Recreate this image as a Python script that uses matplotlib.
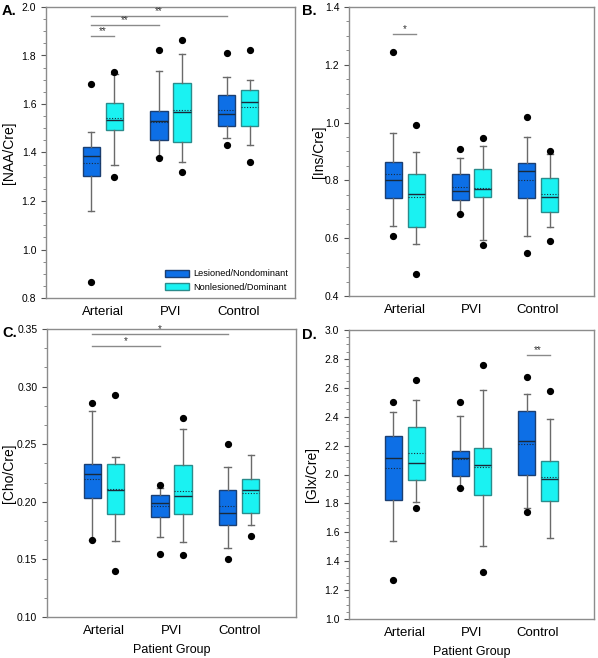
import numpy as np
import matplotlib
matplotlib.use("Agg")
import matplotlib.pyplot as plt
from matplotlib.ticker import AutoMinorLocator, MultipleLocator, FormatStrFormatter
from matplotlib.patches import Patch

plt.rcParams['font.family'] = ['Liberation Sans', 'DejaVu Sans']

groups = ["Arterial", "PVI", "Control"]
series_names = ["Lesioned/Nondominant", "Nonlesioned/Dominant"]

# five-number summaries per group: [whislo, q1, median, q3, whishi]
naa_les = [[1.157, 1.304, 1.385, 1.423, 1.483],
           [1.380, 1.450, 1.529, 1.573, 1.735],
           [1.460, 1.509, 1.559, 1.639, 1.710]]
naa_les_mean = [1.355, 1.525, 1.575]
naa_les_out = [[0.866, 1.684], [1.377, 1.821], [1.429, 1.810]]
naa_non = [[1.348, 1.493, 1.534, 1.606, 1.725],
           [1.361, 1.442, 1.566, 1.686, 1.807],
           [1.429, 1.509, 1.610, 1.658, 1.699]]
naa_non_mean = [1.544, 1.575, 1.586]
naa_non_out = [[1.297, 1.730], [1.319, 1.863], [1.359, 1.821]]

ins_les = [[0.643, 0.740, 0.800, 0.862, 0.965],
           [0.684, 0.733, 0.764, 0.823, 0.876],
           [0.609, 0.740, 0.832, 0.859, 0.950]]
ins_les_mean = [0.823, 0.777, 0.801]
ins_les_out = [[0.607, 1.245], [0.684, 0.908], [0.550, 1.021]]
ins_non = [[0.579, 0.639, 0.754, 0.822, 0.899],
           [0.595, 0.741, 0.771, 0.838, 0.920],
           [0.639, 0.691, 0.741, 0.809, 0.890]]
ins_non_mean = [0.743, 0.773, 0.753]
ins_non_out = [[0.477, 0.991], [0.578, 0.946], [0.591, 0.902]]

cho_les = [[0.167, 0.2033, 0.2241, 0.2331, 0.2785],
           [0.1697, 0.1871, 0.199, 0.2056, 0.212],
           [0.160, 0.1801, 0.1903, 0.2102, 0.2302]]
cho_les_mean = [0.2201, 0.196, 0.1966]
cho_les_out = [[0.167, 0.2858], [0.155, 0.2143], [0.1503, 0.2505]]
cho_non = [[0.166, 0.1894, 0.2105, 0.2331, 0.2392],
           [0.1648, 0.1894, 0.2047, 0.2317, 0.2632],
           [0.1801, 0.1903, 0.2102, 0.2198, 0.2403]]
cho_non_mean = [0.211, 0.2091, 0.2076]
cho_non_out = [[0.140, 0.2927], [0.1541, 0.2725], [0.170]]

glx_les = [[1.542, 1.824, 2.117, 2.264, 2.430],
           [1.909, 1.987, 2.117, 2.163, 2.405],
           [1.766, 1.999, 2.229, 2.439, 2.557]]
glx_les_mean = [2.043, 2.110, 2.211]
glx_les_out = [[1.270, 2.504], [1.909, 2.504], [1.738, 2.677]]
glx_non = [[1.810, 1.960, 2.082, 2.331, 2.516],
           [1.505, 1.856, 2.063, 2.183, 2.587],
           [1.558, 1.817, 1.967, 2.096, 2.386]]
glx_non_mean = [2.146, 2.052, 1.985]
glx_non_out = [[1.770, 2.654], [1.328, 2.758], [2.580]]

# significance brackets: (group_a, side_a, group_b, side_b, y, label)
naa_sig = [(0, 0, 0, 1, 1.881, "**"), (0, 0, 1, 0, 1.924, "**"), (0, 0, 2, 0, 1.964, "**")]
ins_sig = [(0, 0, 0, 1, 1.306, "*")]
cho_sig = [(0, 0, 1, 0, 0.3355, "*"), (0, 0, 2, 0, 0.3454, "*")]
glx_sig = [(2, 0, 2, 1, 2.827, "**")]

les_color = "#0d6fe6"
non_color = "#1af2f2"
les_edge = "#1b3f72"
non_edge = "#2a8c8c"
off = 0.172
bw = 0.256

def stats_list(box, mean, out):
    res = []
    for b, m, o in zip(box, mean, out):
        res.append(dict(whislo=b[0], q1=b[1], med=b[2], q3=b[3], whishi=b[4],
                        mean=m, fliers=o))
    return res

def draw_panel(ax, les, les_m, les_o, non, non_m, non_o, sig, ylim, step, minor,
               ylabel, ylab_x, xlabel):
    x = np.arange(1, len(groups) + 1)
    for st, pos, fc, ec in [(stats_list(les, les_m, les_o), x - off, les_color, les_edge),
                            (stats_list(non, non_m, non_o), x + off, non_color, non_edge)]:
        ax.bxp(st, positions=pos, widths=bw, patch_artist=True,
               showmeans=True, meanline=True, showcaps=True,
               boxprops=dict(facecolor=fc, edgecolor=ec, linewidth=1.0),
               medianprops=dict(color="#1a2a3a", linewidth=1.0),
               meanprops=dict(color="#1a2a3a", linestyle=(0, (1, 1.5)), linewidth=0.8),
               whiskerprops=dict(color="#6a6a6a", linewidth=1.0),
               capprops=dict(color="#6a6a6a", linewidth=1.0),
               capwidths=0.09,
               flierprops=dict(marker="o", markerfacecolor="black", markeredgecolor="black",
                               markersize=4.2, linestyle="none"),
               manage_ticks=False)
    for ga, sa, gb, sb, y, lab in sig:
        xa = x[ga] + (off if sa else -off)
        xb = x[gb] + (off if sb else -off)
        ax.plot([xa, xb], [y, y], color="#8a8a8a", linewidth=1.0)
        ax.text((xa + xb) / 2, y, lab, ha="center", va="bottom", fontsize=7, color="#333333")
    ax.set_xlim(0.16, 3.84)
    ax.set_ylim(*ylim)
    ax.yaxis.set_major_locator(MultipleLocator(step))
    ax.yaxis.set_minor_locator(AutoMinorLocator(minor))
    ax.set_xticks(x)
    ax.set_xticklabels(groups, fontsize=9.5)
    ax.tick_params(axis="x", length=0, pad=6)
    ax.tick_params(axis="y", which="major", length=3.5, width=0.8, color="#555555", labelsize=7.5)
    ax.tick_params(axis="y", which="minor", length=2, width=0.6, color="#777777")
    for s in ax.spines.values():
        s.set_color("#8c8c8c")
        s.set_linewidth(1.0)
    ax.set_ylabel(ylabel, fontsize=10)
    ax.yaxis.set_label_coords(ylab_x, 0.5)
    if xlabel:
        ax.set_xlabel(xlabel, fontsize=9)
        ax.xaxis.set_label_coords(0.5, -0.094)

fig = plt.figure(figsize=(5.98, 6.58), dpi=100)
W, H = 598, 658
def box(l, t, r, b):
    return [l / W, 1 - b / H, (r - l) / W, (b - t) / H]

axA = fig.add_axes(box(46, 7, 295, 298))
axB = fig.add_axes(box(349, 7, 594, 296))
axC = fig.add_axes(box(47, 329, 296, 617))
axD = fig.add_axes(box(349, 330, 594, 619))

draw_panel(axA, naa_les, naa_les_mean, naa_les_out, naa_non, naa_non_mean, naa_non_out,
           naa_sig, (0.8, 2.0), 0.2, 4, "[NAA/Cre]", -0.12, None)
draw_panel(axB, ins_les, ins_les_mean, ins_les_out, ins_non, ins_non_mean, ins_non_out,
           ins_sig, (0.4, 1.4), 0.2, 4, "[Ins/Cre]", -0.095, None)
draw_panel(axC, cho_les, cho_les_mean, cho_les_out, cho_non, cho_non_mean, cho_non_out,
           cho_sig, (0.10, 0.35), 0.05, 3, "[Cho/Cre]", -0.125, "Patient Group")
draw_panel(axD, glx_les, glx_les_mean, glx_les_out, glx_non, glx_non_mean, glx_non_out,
           glx_sig, (1.0, 3.0), 0.2, 4, "[Glx/Cre]", -0.122, "Patient Group")
axC.yaxis.set_major_formatter(FormatStrFormatter("%.2f"))

handles = [Patch(facecolor=les_color, edgecolor=les_edge, label=series_names[0]),
           Patch(facecolor=non_color, edgecolor=non_edge, label=series_names[1])]
axA.legend(handles=handles, loc="lower right", frameon=False, fontsize=6.6,
           handlelength=2.6, handleheight=0.8, labelspacing=0.45, borderaxespad=0.3,
           handletextpad=0.5)

for lab, xx, yy in [("A.", 2, 4), ("B.", 302, 4), ("C.", 2, 326), ("D.", 302, 328)]:
    fig.text(xx / W, 1 - yy / H, lab, fontsize=10.5, fontweight="bold", va="top", ha="left")

fig.savefig("out.png", dpi=100)
